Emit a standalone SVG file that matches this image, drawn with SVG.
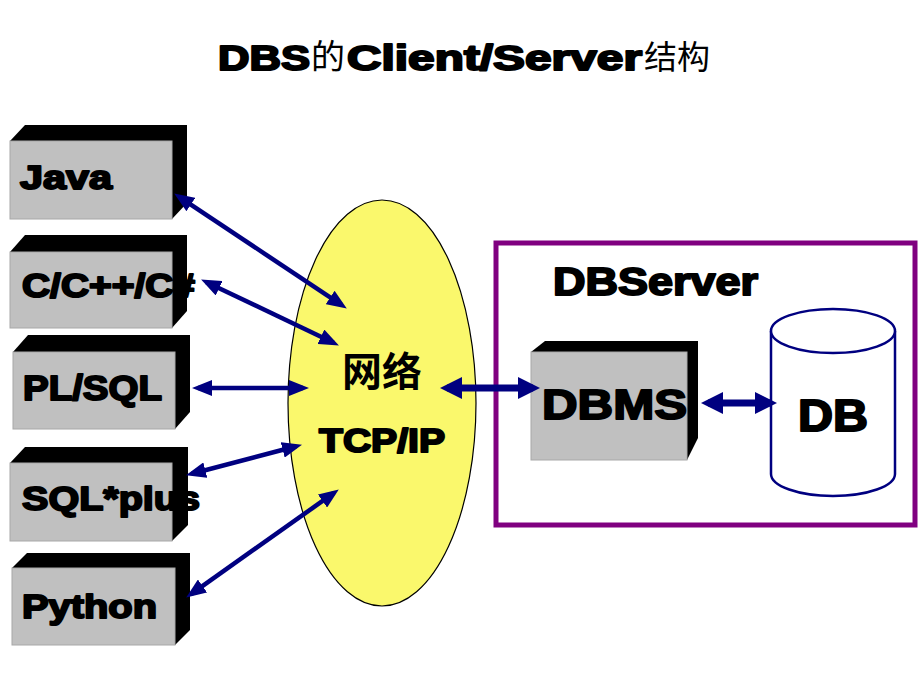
<svg xmlns="http://www.w3.org/2000/svg" width="920" height="690" viewBox="0 0 920 690">
<style>
.lbl{font-family:"Liberation Sans",Arial,"Noto Sans CJK SC",sans-serif;font-weight:bold;fill:#000;stroke:#000;stroke-width:2;stroke-linejoin:round;paint-order:stroke}
.cjk{font-family:"Noto Sans CJK SC","Liberation Sans",sans-serif;fill:#000}
.face{fill:#C0C0C0;stroke:#A8A8A8;stroke-width:1}
.side{fill:#000}
.thin{fill:none;stroke:#000080;stroke-width:4.5;marker-start:url(#ah);marker-end:url(#ah)}
.thick{fill:none;stroke:#000080;stroke-width:7;marker-start:url(#ahb);marker-end:url(#ahb)}
</style>
<defs>
<marker id="ah" viewBox="0 0 20 16" refX="14" refY="8" markerWidth="20" markerHeight="16" markerUnits="userSpaceOnUse" orient="auto-start-reverse"><path d="M0,0 L20,8 L0,16 Z" fill="#000080"/></marker>
<marker id="ahb" viewBox="0 0 22 22" refX="15" refY="11" markerWidth="22" markerHeight="22" markerUnits="userSpaceOnUse" orient="auto-start-reverse"><path d="M0,0 L22,11 L0,22 Z" fill="#000080"/></marker>
</defs>
<rect width="920" height="690" fill="#fff"/>
<g id="title">
<text class="lbl" x="218" y="70" font-size="35" textLength="92" lengthAdjust="spacingAndGlyphs">DBS</text>
<text class="cjk" x="311" y="69" font-size="34">的</text>
<text class="lbl" x="347" y="70" font-size="35" textLength="295" lengthAdjust="spacingAndGlyphs">Client/Server</text>
<text class="cjk" x="644" y="69" font-size="33">结构</text>
</g>
<g id="server">
<rect x="496" y="243" width="419" height="282" fill="none" stroke="#800080" stroke-width="5"/>
<text class="lbl" x="553" y="295" font-size="39" textLength="205" lengthAdjust="spacingAndGlyphs">DBServer</text>
</g>
<g id="network">
<ellipse cx="382" cy="403" rx="94" ry="203" fill="#FAF86C" stroke="#000" stroke-width="1.2"/>
<text class="cjk" x="342" y="386" font-size="40" font-weight="bold">网络</text>
<text class="lbl" x="319" y="452" font-size="33" textLength="126" lengthAdjust="spacingAndGlyphs">TCP/IP</text>
</g>
<g id="java">
<polygon class="side" points="10,141 25,125 187,125 187,203 172,219"/>
<rect class="face" x="10" y="141" width="162" height="78"/>
<text class="lbl" x="20" y="189" font-size="33" textLength="92" lengthAdjust="spacingAndGlyphs">Java</text>
</g>
<g id="c">
<polygon class="side" points="10,252 25,235 187,235 187,311 172,328"/>
<rect class="face" x="10" y="252" width="162" height="76"/>
<text class="lbl" x="22" y="297" font-size="33" textLength="173" lengthAdjust="spacingAndGlyphs">C/C++/C#</text>
</g>
<g id="plsql">
<polygon class="side" points="13,352 28,335 190,335 190,412 175,429"/>
<rect class="face" x="13" y="352" width="162" height="77"/>
<text class="lbl" x="23" y="400" font-size="35" textLength="139" lengthAdjust="spacingAndGlyphs">PL/SQL</text>
</g>
<g id="sqlplus">
<polygon class="side" points="10,463 25,447 188,447 188,525 172,541"/>
<rect class="face" x="10" y="463" width="162" height="78"/>
<text class="lbl" x="22" y="510" font-size="34" textLength="178" lengthAdjust="spacingAndGlyphs">SQL*plus</text>
</g>
<g id="python">
<polygon class="side" points="12,568 27,553 190,553 190,630 175,645"/>
<rect class="face" x="12" y="568" width="163" height="77"/>
<text class="lbl" x="22" y="618" font-size="34" textLength="135" lengthAdjust="spacingAndGlyphs">Python</text>
</g>
<g id="dbms">
<polygon class="side" points="531,352 545,341 698,341 698,438 687,460"/>
<rect class="face" x="531" y="352" width="156" height="108"/>
<text class="lbl" x="542" y="419" font-size="43" textLength="145" lengthAdjust="spacingAndGlyphs">DBMS</text>
</g>
<g id="db">
<path d="M771,331 L771,474 A62,22 0 0 0 895,474 L895,331" fill="#fff" stroke="#000080" stroke-width="2.5"/>
<ellipse cx="833" cy="331" rx="62" ry="22" fill="#fff" stroke="#000080" stroke-width="2.5"/>
<text class="lbl" x="798" y="431" font-size="45" textLength="70" lengthAdjust="spacingAndGlyphs">DB</text>
</g>
<g id="connectors">
<line class="thin" x1="179.2" y1="196.8" x2="341.8" y2="305.2"/>
<line class="thin" x1="206.5" y1="282.2" x2="333.5" y2="342.8"/>
<line class="thin" x1="198" y1="388" x2="303" y2="388"/>
<line class="thin" x1="191.8" y1="473.7" x2="296.2" y2="446.3"/>
<line class="thin" x1="191.1" y1="594.1" x2="333.9" y2="492.9"/>
<line class="thick" x1="447" y1="388" x2="533" y2="388"/>
<line class="thick" x1="708" y1="403" x2="770" y2="403"/>
</g>
</svg>
